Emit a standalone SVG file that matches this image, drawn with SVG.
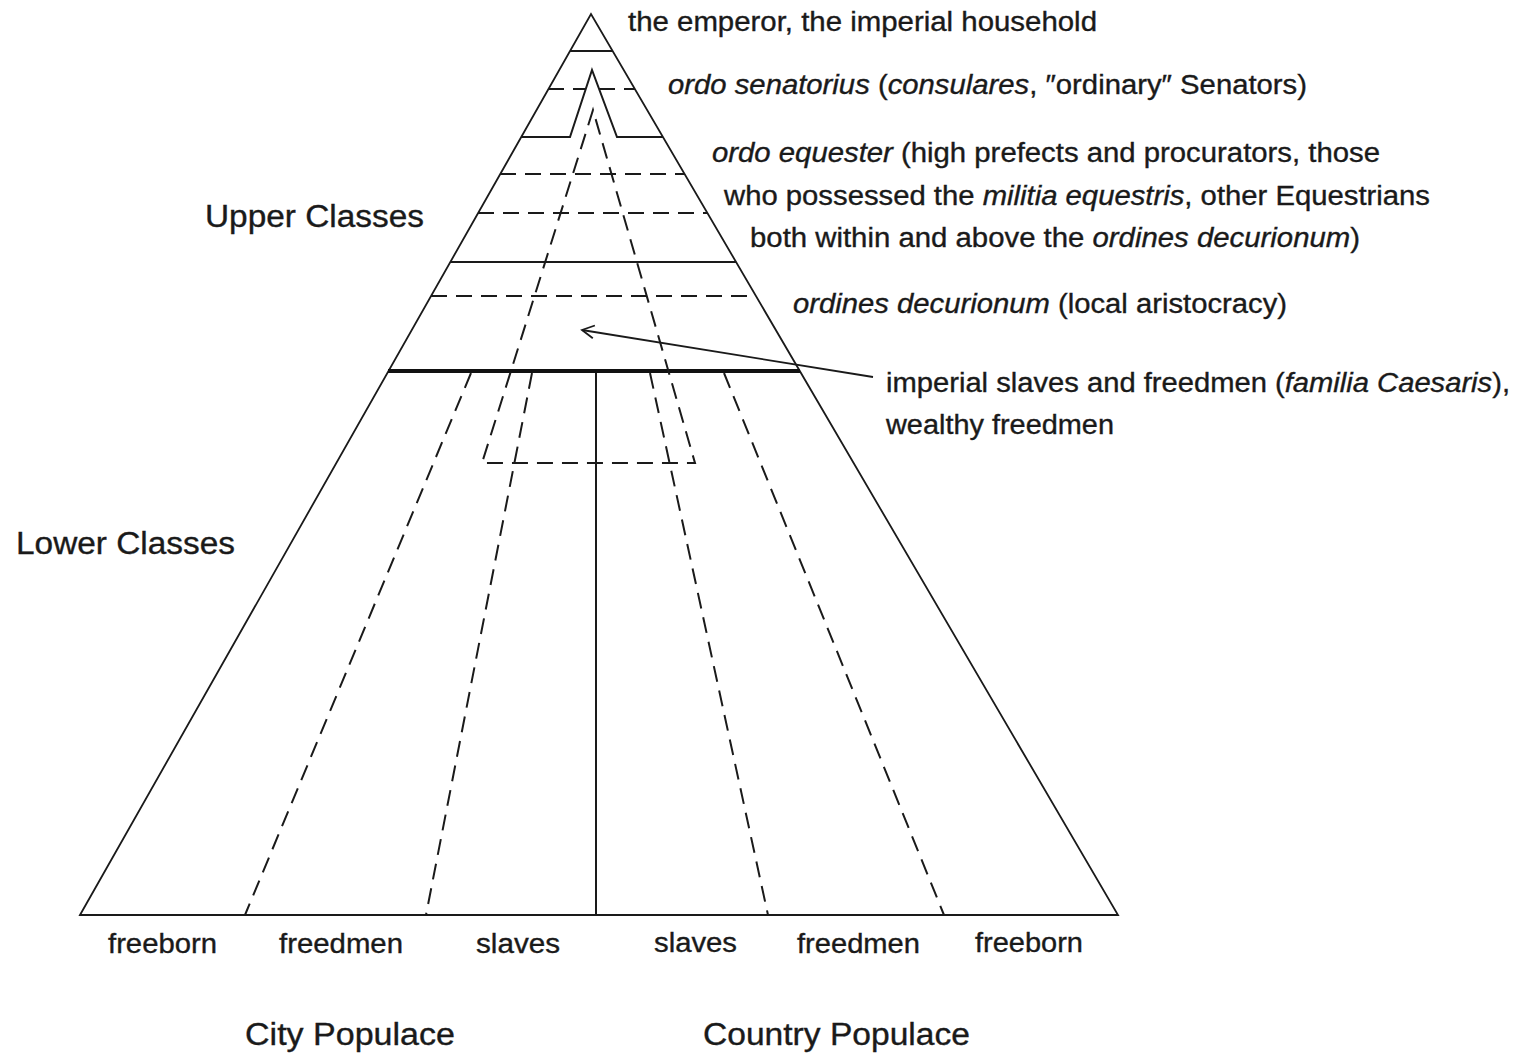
<svg xmlns="http://www.w3.org/2000/svg" width="1519" height="1055" viewBox="0 0 1519 1055">
  <style>
    .ln { fill: none; stroke: #1a1a1a; stroke-width: 2; stroke-linecap: butt; stroke-linejoin: miter; }
    .edge { fill: none; stroke: #1a1a1a; stroke-width: 1.8; }
    .dash { fill: none; stroke: #1a1a1a; stroke-width: 2; stroke-dasharray: 16 9; }
    .thick { fill: none; stroke: #111; stroke-width: 4; }
    .t { font-family: "Liberation Sans", Arial, Helvetica, sans-serif; fill: #1a1a1a; stroke: #1a1a1a; stroke-width: 0.35; }
    .r { font-size: 27px; }
    .b { font-size: 27px; }
    .big { font-size: 31px; }
    .i { font-style: italic; }
  </style>
  <defs>
    <marker id="openArrow" markerWidth="16" markerHeight="16" refX="14" refY="8" orient="auto" markerUnits="userSpaceOnUse">
      <path d="M2,1.5 L14,8 L2,14.5" fill="none" stroke="#1a1a1a" stroke-width="1.8"/>
    </marker>
  </defs>
  <rect x="0" y="0" width="1519" height="1055" fill="#ffffff"/>

  <!-- pyramid outline -->
  <g id="pyramid">
    <path class="edge" d="M80,915 L591,14 L1118,915 Z"/>
  </g>

  <!-- strata of the upper part -->
  <g id="strata">
    <line class="ln" x1="570" y1="51" x2="613" y2="51"/>
    <line class="dash" x1="548" y1="89" x2="586" y2="89"/>
    <line class="dash" x1="599" y1="89" x2="635" y2="89"/>
    <path class="ln" d="M521,137 L570,137 L592,70 L617,137 L663,137"/>
    <line class="dash" x1="500" y1="174" x2="685" y2="174"/>
    <line class="dash" x1="478" y1="213" x2="707" y2="213"/>
    <line class="ln" x1="450" y1="262" x2="736" y2="262"/>
    <line class="dash" x1="431" y1="296" x2="756" y2="296"/>
    <line class="thick" x1="388" y1="371" x2="800" y2="371"/>
  </g>

  <!-- imperial slaves and freedmen wedge -->
  <g id="familia-caesaris">
    <path class="dash" d="M593,110 L482,463 L695,463 Z"/>
  </g>

  <!-- lower divisions -->
  <g id="divisions">
    <line class="dash" x1="471" y1="373" x2="245" y2="915"/>
    <line class="dash" x1="532" y1="373" x2="426" y2="915"/>
    <line class="ln" x1="596" y1="373" x2="596" y2="915"/>
    <line class="dash" x1="650" y1="373" x2="768" y2="915"/>
    <line class="dash" x1="724" y1="373" x2="944" y2="915"/>
  </g>

  <!-- connector -->
  <g id="connectors">
    <line class="edge" x1="873" y1="377" x2="582" y2="330" marker-end="url(#openArrow)"/>
  </g>

  <!-- right-hand labels -->
  <g id="label-emperor">
    <text class="t r" x="628" y="31" textLength="469" lengthAdjust="spacingAndGlyphs">the emperor, the imperial household</text>
  </g>
  <g id="label-senatorius">
    <text class="t r" x="668" y="94" textLength="639" lengthAdjust="spacingAndGlyphs"><tspan class="i">ordo senatorius</tspan> (<tspan class="i">consulares</tspan>, ″ordinary″ Senators)</text>
  </g>
  <g id="label-equester">
    <text class="t r" x="712" y="162" textLength="668" lengthAdjust="spacingAndGlyphs"><tspan class="i">ordo equester</tspan> (high prefects and procurators, those</text>
    <text class="t r" x="724" y="205" textLength="706" lengthAdjust="spacingAndGlyphs">who possessed the <tspan class="i">militia equestris</tspan>, other Equestrians</text>
    <text class="t r" x="750" y="247" textLength="610" lengthAdjust="spacingAndGlyphs">both within and above the <tspan class="i">ordines decurionum</tspan>)</text>
  </g>
  <g id="label-decuriones">
    <text class="t r" x="793" y="313" textLength="494" lengthAdjust="spacingAndGlyphs"><tspan class="i">ordines decurionum</tspan> (local aristocracy)</text>
  </g>
  <g id="label-familia">
    <text class="t r" x="886" y="392" textLength="624" lengthAdjust="spacingAndGlyphs">imperial slaves and freedmen (<tspan class="i">familia Caesaris</tspan>),</text>
    <text class="t r" x="886" y="434" textLength="228" lengthAdjust="spacingAndGlyphs">wealthy freedmen</text>
  </g>

  <!-- class labels -->
  <g id="label-upper">
    <text class="t big" x="205" y="227" textLength="219" lengthAdjust="spacingAndGlyphs">Upper Classes</text>
  </g>
  <g id="label-lower">
    <text class="t big" x="16" y="554" textLength="219" lengthAdjust="spacingAndGlyphs">Lower Classes</text>
  </g>

  <!-- bottom labels -->
  <g id="bottom-labels">
    <text class="t b" x="108" y="953" textLength="109" lengthAdjust="spacingAndGlyphs">freeborn</text>
    <text class="t b" x="279" y="953" textLength="124" lengthAdjust="spacingAndGlyphs">freedmen</text>
    <text class="t b" x="476" y="953" textLength="84" lengthAdjust="spacingAndGlyphs">slaves</text>
    <text class="t b" x="654" y="952" textLength="83" lengthAdjust="spacingAndGlyphs">slaves</text>
    <text class="t b" x="797" y="953" textLength="123" lengthAdjust="spacingAndGlyphs">freedmen</text>
    <text class="t b" x="975" y="952" textLength="108" lengthAdjust="spacingAndGlyphs">freeborn</text>
  </g>
  <g id="label-city">
    <text class="t big" x="245" y="1045" textLength="210" lengthAdjust="spacingAndGlyphs">City Populace</text>
  </g>
  <g id="label-country">
    <text class="t big" x="703" y="1045" textLength="267" lengthAdjust="spacingAndGlyphs">Country Populace</text>
  </g>
</svg>
